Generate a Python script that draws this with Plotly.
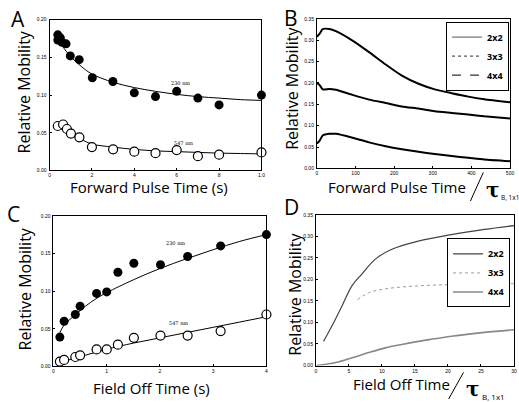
import plotly.graph_objects as go

# ---------------- data ----------------
# Panel A: relative mobility vs forward pulse time (s)
a_x_filled = [0.39, 0.39, 0.51, 0.59, 0.78, 0.98, 1.40, 2.02, 2.99, 4.0, 5.0, 6.0, 7.0, 8.0, 10.0]
a_y_filled = [0.180, 0.173, 0.176, 0.170, 0.168, 0.152, 0.147, 0.123, 0.118, 0.103, 0.098, 0.105, 0.096, 0.087, 0.100]
a_x_open = [0.39, 0.64, 0.82, 1.01, 1.41, 2.0, 3.0, 4.0, 5.0, 6.0, 7.0, 8.0, 10.0]
a_y_open = [0.059, 0.061, 0.055, 0.049, 0.044, 0.031, 0.028, 0.025, 0.023, 0.027, 0.019, 0.021, 0.024]
a_fit_x = [0.4, 0.6, 1.0, 1.5, 2.0, 3.0, 4.0, 5.0, 6.0, 7.0, 8.0, 9.0, 10.0]
a_fit_hi = [0.172, 0.165, 0.151, 0.138, 0.128, 0.117, 0.110, 0.105, 0.101, 0.098, 0.096, 0.094, 0.093]
a_fit_lo = [0.058, 0.054, 0.047, 0.041, 0.035, 0.031, 0.028, 0.026, 0.025, 0.024, 0.023, 0.0225, 0.022]
a_labels = ["230 nm", "547 nm"]

# Panel B: simulated mobility vs forward pulse time / tau
b_x = [0, 7, 15, 32, 49, 92, 135, 178, 220, 263, 305, 349, 392, 433, 500]
b_2x2 = [0.308, 0.315, 0.326, 0.326, 0.321, 0.299, 0.272, 0.243, 0.217, 0.198, 0.185, 0.176, 0.168, 0.162, 0.155]
b_3x3 = [0.200, 0.195, 0.185, 0.186, 0.184, 0.172, 0.161, 0.153, 0.145, 0.140, 0.134, 0.130, 0.126, 0.122, 0.117]
b_4x4 = [0.058, 0.065, 0.077, 0.081, 0.081, 0.072, 0.061, 0.052, 0.045, 0.039, 0.034, 0.029, 0.025, 0.021, 0.017]

# Panel C: relative mobility vs field off time (s)
c_x = [0.12, 0.2, 0.41, 0.5, 0.81, 1.0, 1.21, 1.51, 2.01, 2.52, 3.14, 4.0]
c_y_filled = [0.039, 0.060, 0.069, 0.080, 0.097, 0.099, 0.125, 0.137, 0.135, 0.146, 0.160, 0.175]
c_y_open = [0.0065, 0.0087, 0.0126, 0.0148, 0.0226, 0.0226, 0.029, 0.038, 0.041, 0.041, 0.047, 0.069]
c_fit_x = [0.12, 0.2, 0.4, 0.6, 0.8, 1.0, 1.5, 2.0, 2.5, 3.0, 3.5, 4.0]
c_fit_hi = [0.045, 0.055, 0.068, 0.080, 0.090, 0.098, 0.115, 0.130, 0.143, 0.155, 0.166, 0.175]
c_fit_lo = [0.005, 0.007, 0.011, 0.015, 0.019, 0.023, 0.031, 0.038, 0.045, 0.052, 0.059, 0.066]
c_labels = ["230 nm", "547 nm"]

# Panel D: simulated mobility vs field off time / tau
d_x = [1.15, 2.5, 4.0, 5.5, 7.0, 9.0, 11.5, 15.5, 20.5, 25.5, 30]
d_2x2 = [0.056, 0.094, 0.140, 0.186, 0.213, 0.247, 0.270, 0.289, 0.304, 0.316, 0.325]
d_x3 = [6.3, 8.0, 10.5, 15.5, 20.5, 25.5, 30]
d_3x3 = [0.153, 0.169, 0.178, 0.185, 0.188, 0.190, 0.190]
d_x4 = [0.05, 3.0, 5.5, 8.0, 10.5, 13.0, 15.5, 18.0, 20.5, 25.5, 30]
d_4x4 = [0.0, 0.007, 0.018, 0.030, 0.041, 0.049, 0.056, 0.062, 0.068, 0.077, 0.083]

series_names = ["2x2", "3x3", "4x4"]

# ---------------- figure ----------------
W, H = 519, 402
fig = go.Figure()

def px_x(p):
    return p / W

def px_y(p):
    return 1 - p / H

MK = 9
# A
fig.add_trace(go.Scatter(x=a_fit_x, y=a_fit_hi, mode="lines", line=dict(color="black", width=1, shape="spline"), xaxis="x", yaxis="y", showlegend=False))
fig.add_trace(go.Scatter(x=a_fit_x, y=a_fit_lo, mode="lines", line=dict(color="black", width=1, shape="spline"), xaxis="x", yaxis="y", showlegend=False))
fig.add_trace(go.Scatter(x=a_x_filled, y=a_y_filled, mode="markers", marker=dict(color="black", size=MK), xaxis="x", yaxis="y", showlegend=False, cliponaxis=False))
fig.add_trace(go.Scatter(x=a_x_open, y=a_y_open, mode="markers", marker=dict(color="white", size=MK, line=dict(color="black", width=1.2)), xaxis="x", yaxis="y", showlegend=False, cliponaxis=False))

# B
for ys in (b_2x2, b_3x3, b_4x4):
    fig.add_trace(go.Scatter(x=b_x, y=ys, mode="lines", line=dict(color="black", width=2, shape="spline", smoothing=0.6), xaxis="x2", yaxis="y2", showlegend=False))
for nm, dash, col in zip(series_names, ["solid", "dot", "dash"], ["#777", "#555", "#333"]):
    fig.add_trace(go.Scatter(x=[None], y=[None], mode="lines", name=nm, line=dict(color=col, width=1.2, dash=dash), xaxis="x2", yaxis="y2", legend="legend"))

# C
fig.add_trace(go.Scatter(x=c_fit_x, y=c_fit_hi, mode="lines", line=dict(color="black", width=1, shape="spline"), xaxis="x3", yaxis="y3", showlegend=False))
fig.add_trace(go.Scatter(x=c_fit_x, y=c_fit_lo, mode="lines", line=dict(color="black", width=1, shape="spline"), xaxis="x3", yaxis="y3", showlegend=False))
fig.add_trace(go.Scatter(x=c_x, y=c_y_filled, mode="markers", marker=dict(color="black", size=MK), xaxis="x3", yaxis="y3", showlegend=False, cliponaxis=False))
fig.add_trace(go.Scatter(x=c_x, y=c_y_open, mode="markers", marker=dict(color="white", size=MK, line=dict(color="black", width=1.2)), xaxis="x3", yaxis="y3", showlegend=False, cliponaxis=False))

# D
fig.add_trace(go.Scatter(x=d_x, y=d_2x2, mode="lines", name=series_names[0], line=dict(color="#444", width=1.2, shape="spline"), xaxis="x4", yaxis="y4", legend="legend2"))
fig.add_trace(go.Scatter(x=d_x3, y=d_3x3, mode="lines", name=series_names[1], line=dict(color="#999", width=1, dash="dot", shape="spline"), xaxis="x4", yaxis="y4", legend="legend2"))
fig.add_trace(go.Scatter(x=d_x4, y=d_4x4, mode="lines", name=series_names[2], line=dict(color="#888", width=1.6, shape="spline"), xaxis="x4", yaxis="y4", legend="legend2"))

TICKF = dict(family="Liberation Sans", size=5, color="black")

def xax(dom, rng, tv, tt, anchor):
    return dict(domain=dom, range=rng, tickvals=tv, ticktext=tt, anchor=anchor,
                showgrid=False, zeroline=False, showline=True, linecolor="black", linewidth=1,
                mirror=True, ticks="inside", ticklen=2, tickcolor="black", tickfont=TICKF, ticklabelstandoff=0)

def yax(dom, rng, tv, tt, anchor):
    return dict(domain=dom, range=rng, tickvals=tv, ticktext=tt, anchor=anchor,
                showgrid=False, zeroline=False, showline=True, linecolor="black", linewidth=1,
                mirror=True, ticks="inside", ticklen=2, tickcolor="black", tickfont=TICKF, ticklabelstandoff=1)

y20 = [0, 0.05, 0.10, 0.15, 0.20]
y20t = ["0.00", "0.05", "0.10", "0.15", "0.20"]
y35 = [0, 0.05, 0.10, 0.15, 0.20, 0.25, 0.30, 0.35]
y35t = ["0.00", "0.05", "0.10", "0.15", "0.20", "0.25", "0.30", "0.35"]

LEGF = dict(family="Open Sans", size=9, color="black", weight="bold")
fig.update_layout(
    width=W, height=H, margin=dict(l=0, r=0, t=0, b=0),
    paper_bgcolor="white", plot_bgcolor="white",
    xaxis=xax([px_x(49), px_x(263)], [0, 10], [0, 2, 4, 6, 8, 10], ["0", "2", "4", "6", "8", "1.0"], "y"),
    yaxis=yax([px_y(170), px_y(17)], [0, 0.2], y20, y20t, "x"),
    xaxis2=xax([px_x(319), px_x(514)], [0, 500], [0, 100, 200, 300, 400, 500], ["0", "100", "200", "300", "400", "500"], "y2"),
    yaxis2=yax([px_y(168), px_y(16)], [0, 0.35], y35, y35t, "x2"),
    xaxis3=xax([px_x(53), px_x(268)], [0, 4], [0, 1, 2, 3, 4], ["0", "1", "2", "3", "4"], "y3"),
    yaxis3=yax([px_y(369), px_y(216)], [0, 0.2], y20, y20t, "x3"),
    xaxis4=xax([px_x(318), px_x(518)], [0, 30], [0, 5, 10, 15, 20, 25, 30], ["0", "5", "10", "15", "20", "25", "30"], "y4"),
    yaxis4=yax([px_y(368), px_y(215)], [0, 0.35], y35, y35t, "x4"),
    legend=dict(x=px_x(513), y=px_y(19), xanchor="right", yanchor="top", bgcolor="white",
                bordercolor="black", borderwidth=1, font=LEGF, itemwidth=30, tracegroupgap=0),
    legend2=dict(x=px_x(514), y=px_y(239), xanchor="right", yanchor="top", bgcolor="white",
                 bordercolor="black", borderwidth=1, font=LEGF, itemwidth=30, tracegroupgap=0),
)

TF = dict(family="Open Sans", size=15, color="black")
TFY = dict(family="Open Sans", size=16, color="black")
LF = dict(family="Open Sans", size=21, color="black")
ann = []
def paper_text(x, y, text, font, angle=0, xanchor="center", yanchor="middle"):
    ann.append(dict(x=px_x(x), y=px_y(y), xref="paper", yref="paper", text=text, showarrow=False,
                    font=font, textangle=angle, xanchor=xanchor, yanchor=yanchor))

# panel letters
paper_text(17, 16, "A", LF)
paper_text(293, 15, "B", LF)
paper_text(13, 214, "C", LF)
paper_text(293, 207, "D", LF)
# y titles
paper_text(23, 90, "Relative Mobility", TFY, angle=-90)
paper_text(294, 87, "Relative Mobility", TFY, angle=-90)
paper_text(24, 290, "Relative Mobility", TFY, angle=-90)
paper_text(296, 296, "Relative Mobility", TFY, angle=-90)
# x titles
paper_text(149, 187, "Forward Pulse Time (s)", TF)
paper_text(400, 187, "Forward Pulse Time", TF)
paper_text(152, 391, "Field Off Time (s)", TF)
paper_text(404, 387, "Field Off Time", TF)
# tau labels
TAU = dict(family="DejaVu Serif", size=20, color="black", weight="bold")
SUBB = dict(family="Open Sans", size=6.5, color="black")
SUBD = dict(family="Open Sans", size=8, color="black")
paper_text(496, 190, "τ", TAU)
paper_text(503, 197, "B, 1x1", SUBB, xanchor="left")
paper_text(476, 392, "τ", TAU)
paper_text(484, 399, "B, 1x1", SUBD, xanchor="left")

# in-plot labels
SF = dict(family="DejaVu Serif", size=5, color="black")
ann.append(dict(x=6.2, y=0.116, xref="x", yref="y", text=a_labels[0], showarrow=False, font=SF))
ann.append(dict(x=6.3, y=0.036, xref="x", yref="y", text=a_labels[1], showarrow=False, font=SF))
ann.append(dict(x=2.3, y=0.164, xref="x3", yref="y3", text=c_labels[0], showarrow=False, font=SF))
ann.append(dict(x=2.35, y=0.058, xref="x3", yref="y3", text=c_labels[1], showarrow=False, font=SF))
fig.update_layout(annotations=ann)

# slashes in axis titles
fig.add_shape(type="line", xref="paper", yref="paper", x0=px_x(487), y0=px_y(172), x1=px_x(474), y1=px_y(201), line=dict(color="black", width=1))
fig.add_shape(type="line", xref="paper", yref="paper", x0=px_x(467), y0=px_y(375), x1=px_x(452), y1=px_y(402), line=dict(color="black", width=1))

fig.write_html("out.html")
